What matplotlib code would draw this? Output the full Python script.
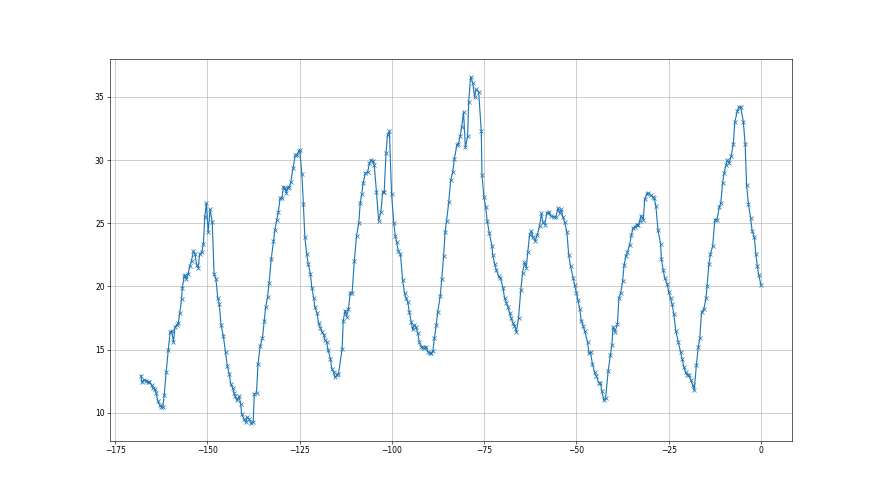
import matplotlib
matplotlib.use('Agg')
import matplotlib.pyplot as plt

# hours relative to now
hours = [
    -168.0, -167.8, -167.2, -166.6, -166.0, -165.7, -165.1, -164.8, -164.2, -163.9,
    -163.4, -162.9, -162.5, -162.1, -161.7, -161.2, -160.6, -160.1, -159.7, -159.2,
    -158.8, -158.3, -157.9, -157.5, -157.0, -156.8, -156.3, -156.0, -155.7, -155.2,
    -154.8, -154.3, -153.8, -153.4, -152.9, -152.5, -152.1, -151.5, -151.1, -150.7,
    -150.3, -149.8, -149.3, -148.7, -148.2, -147.7, -147.2, -146.8, -146.3, -145.7,
    -145.1, -144.6, -144.1, -143.7, -143.2, -142.8, -142.5, -142.0,
    -141.4, -141.0, -140.7, -140.1, -139.6, -139.2, -138.7, -138.2, -137.6, -137.3,
    -136.7, -136.3, -135.7, -135.1, -134.6, -134.2, -133.7, -133.3, -132.7, -132.1,
    -131.7, -131.2, -130.8, -130.3, -129.8, -129.4, -129.0, -128.6, -128.3, -127.8,
    -127.4, -126.8, -126.2, -125.8, -125.3, -125.0, -124.4, -124.0, -123.6, -123.1,
    -122.7, -122.1, -121.7, -121.2, -120.9, -120.3, -119.9, -119.4, -119.0, -118.5,
    -118.2, -117.7, -117.3, -116.7, -116.3, -115.8, -115.4, -114.9, -114.5,
    -113.5, -113.2, -112.7, -112.3, -111.8, -111.3, -110.8, -110.2, -109.6, -109.0,
    -108.6, -108.2, -107.8, -107.2, -106.6, -106.1, -105.7, -105.2, -104.8, -104.2,
    -103.6, -103.0, -102.5, -102.1, -101.6, -101.2, -100.7, -100.1, -99.5, -99.1,
    -98.7, -98.3, -97.7, -97.1, -96.6, -96.2, -95.7, -95.3, -94.8, -94.4,
    -93.9, -93.5, -93.0, -92.6, -92.1, -91.7, -91.2, -90.7, -90.3, -89.8,
    -89.4, -88.9, -88.5, -88.0, -87.6, -86.9, -86.5, -86.0, -85.6, -85.2, -84.6,
    -84.1, -83.5, -83.1, -82.4, -82.0, -81.5, -81.1, -80.6, -80.1, -79.5,
    -79.2, -78.7, -78.1, -77.6, -77.2, -76.5, -75.8, -75.6, -75.1, -74.6,
    -74.2, -73.6, -72.9, -72.7, -72.2, -71.7, -71.1, -70.6, -69.9, -69.5,
    -69.0, -68.6, -68.1, -67.7, -67.2, -66.8, -66.3, -65.7, -65.1, -64.6,
    -64.1, -63.6, -63.2, -62.7, -62.3, -61.8, -61.2, -60.6, -60.0, -59.5,
    -59.1, -58.6, -58.0, -57.5, -57.0,
    -56.2, -55.6, -55.0, -54.6, -54.1, -53.7, -53.2, -52.6, -52.1, -51.6,
    -50.9, -50.5, -50.0, -49.6, -49.1, -48.7, -48.2, -47.8, -47.0, -46.6,
    -46.2, -45.7, -45.1, -44.6, -44.0, -43.5, -43.1, -42.6, -42.1, -41.4,
    -40.8, -40.4, -40.1, -39.6, -38.9, -38.5, -38.0, -37.5, -37.1, -36.6,
    -36.2, -35.6, -35.1, -34.7, -34.2, -33.7, -33.3, -32.8, -32.5, -31.9,
    -31.5, -31.0, -30.6, -29.9, -29.4, -28.95,
    -28.5, -27.9, -27.2, -27.0, -26.5, -26.1, -25.4, -25.0, -24.5, -24.1,
    -23.6, -23.1, -22.4, -21.8, -21.4, -20.9, -20.4, -20.0, -19.5, -19.0,
    -18.5, -18.1, -17.5, -17.0, -16.6, -16.1, -15.5, -14.9, -14.6, -14.1,
    -13.7, -13.1, -12.5, -11.9, -11.3, -10.9, -10.4, -10.0, -9.5, -9.1,
    -8.6, -8.1, -7.5, -7.1, -6.4, -6.0, -5.5, -4.8, -4.3, -3.9,
    -3.4, -2.8, -2.4, -1.8, -1.4, -1.0, -0.6, 0.0,
]

values = [
    12.95, 12.43, 12.61, 12.56, 12.43, 12.48, 12.2, 11.95, 11.87, 11.56,
    10.9, 10.6, 10.5, 10.45, 11.4, 13.2, 15.0, 16.4, 16.5, 15.6,
    16.8, 16.95, 17.1, 17.9, 19.0, 19.9, 20.8, 20.9, 20.6, 21.0,
    21.6, 22.05, 22.8, 22.6, 21.7, 21.5, 22.6, 22.7, 23.4, 25.5,
    26.6, 24.3, 26.1, 25.1, 21.0, 20.6, 19.1, 18.6, 16.95, 16.1,
    14.8, 13.7, 13.1, 12.3, 12.0, 11.6, 11.3, 11.0,
    11.3, 10.7, 9.9, 9.5, 9.26, 9.66, 9.5, 9.18, 9.26, 11.5,
    11.6, 13.85, 15.3, 15.9, 17.3, 18.4, 19.15, 20.26, 22.2, 23.6,
    24.5, 25.3, 25.9, 27.0, 27.0, 27.9, 27.8, 27.4, 27.8, 27.86,
    28.3, 29.35, 30.4, 30.4, 30.7, 30.8, 28.9, 26.5, 23.9, 22.6,
    21.8, 21.0, 19.9, 19.1, 18.4, 17.9, 17.1, 16.75, 16.4, 16.2,
    15.8, 15.6, 15.0, 14.3, 13.5, 13.2, 12.8, 13.0, 13.06,
    15.06, 17.3, 18.1, 17.6, 18.2, 19.5, 19.5, 22.0, 24.0, 25.0,
    26.6, 27.3, 28.2, 29.0, 29.04, 29.75, 30.0, 29.96, 29.6, 27.5,
    25.2, 25.9, 27.5, 27.5, 30.6, 32.0, 32.3, 27.3, 25.0, 24.0,
    23.5, 22.8, 22.55, 20.5, 19.5, 19.1, 18.75, 18.0, 17.2, 16.6,
    16.96, 16.8, 16.3, 15.6, 15.25, 15.2, 15.1, 15.2, 14.85, 14.7,
    14.7, 14.9, 15.9, 16.96, 18.0, 19.26, 20.6, 22.4, 24.3, 25.2, 26.7,
    28.4, 29.1, 30.1, 31.2, 31.3, 31.9, 32.65, 33.8, 31.0, 31.9,
    34.6, 36.6, 36.1, 35.0, 35.6, 35.4, 32.3, 28.8, 27.1, 26.3,
    25.2, 24.2, 23.2, 22.5, 21.8, 21.3, 20.8, 20.65, 19.9, 19.1,
    18.7, 18.4, 17.9, 17.5, 17.1, 16.9, 16.4, 17.5, 19.7, 21.1,
    21.9, 21.5, 22.7, 24.1, 24.4, 23.95, 23.6, 24.1, 24.8, 25.8,
    25.1, 24.9, 25.85, 25.9, 25.6,
    25.5, 25.5, 26.2, 25.8, 26.1, 25.5, 25.1, 24.3, 22.5, 21.6,
    20.7, 20.1, 19.5, 18.9, 18.2, 17.3, 16.9, 16.5, 15.6, 14.7,
    14.8, 13.9, 13.2, 12.9, 12.4, 12.35, 11.7, 11.0, 11.2, 13.35,
    14.6, 15.4, 16.8, 16.4, 17.0, 19.1, 19.5, 20.4, 21.7, 22.4,
    22.7, 23.3, 24.1, 24.6, 24.7, 24.9, 24.9, 25.2, 25.6, 25.3,
    26.9, 27.3, 27.4, 27.25, 27.1, 27.0,
    26.4, 24.45, 23.35, 22.2, 21.3, 20.7, 20.2, 19.55, 19.07, 18.6,
    17.8, 16.5, 15.6, 14.8, 14.3, 13.6, 13.2, 13.0, 13.0, 12.6,
    12.2, 11.8, 13.8, 15.2, 15.9, 17.97, 18.2, 19.07, 20.07, 21.8,
    22.55, 23.2, 25.3, 25.3, 26.3, 26.6, 28.2, 29.0, 29.6, 30.0,
    29.8, 30.3, 31.3, 33.0, 33.9, 34.2, 34.2, 33.05, 31.3, 28.0,
    26.5, 25.4, 24.4, 23.9, 22.6, 21.6, 20.9, 20.1,
]

fig, ax = plt.subplots(figsize=(16, 9), dpi=55)
ax.plot(hours, values, marker='x')
ax.grid(True)

fig.savefig('out.png', dpi=55)
